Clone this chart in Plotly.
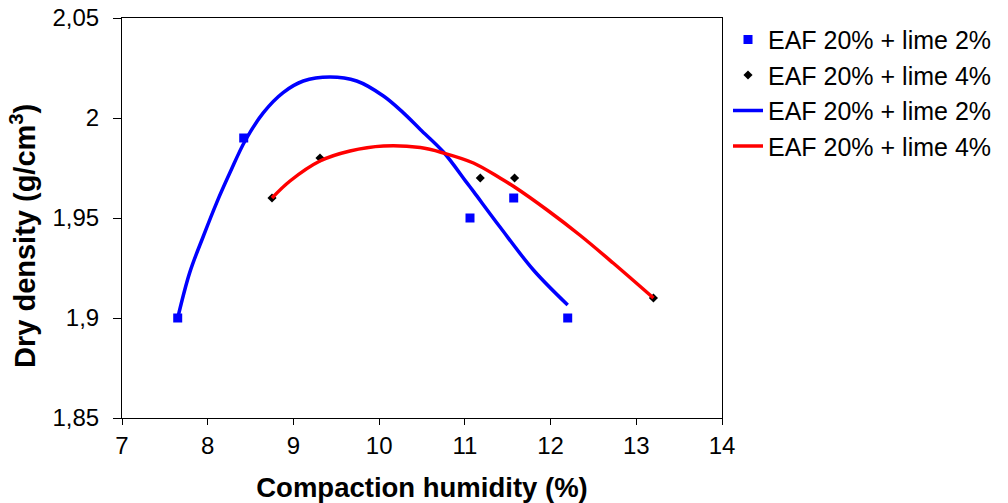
import plotly.graph_objects as go

# Measured data points
x_lime2 = [7.65, 8.42, 11.06, 11.57, 12.20]
y_lime2 = [1.90, 1.99, 1.95, 1.96, 1.90]
x_lime4 = [8.75, 9.31, 11.18, 11.58, 13.20]
y_lime4 = [1.96, 1.98, 1.97, 1.97, 1.91]

# Trend curves
x_fit2 = [7.65, 7.79, 7.95, 8.105, 8.26, 8.435, 8.65, 8.88, 9.115, 9.427, 9.738,
          10.05, 10.28, 10.48, 10.75, 11.02, 11.10, 11.41, 11.80, 12.20]
y_fit2 = [1.900, 1.9227, 1.941, 1.9577, 1.9727, 1.9885, 2.0027, 2.0127, 2.0185, 2.0205, 2.0185,
          2.011, 2.0027, 1.9943, 1.983, 1.9678, 1.9633, 1.9455, 1.924, 1.9065]
x_fit4 = [8.75, 8.96, 9.31, 9.66, 10.05, 10.48, 10.75, 11.10, 11.41, 11.58, 11.96, 12.34, 12.73, 13.20]
y_fit4 = [1.960, 1.9685, 1.9785, 1.9835, 1.986, 1.9852, 1.9825, 1.9775, 1.970, 1.9655, 1.954, 1.9415, 1.9275, 1.910]

x_ticks = [7, 8, 9, 10, 11, 12, 13, 14]
y_ticks = [1.85, 1.9, 1.95, 2.0, 2.05]
y_tick_text = ["1,85", "1,9", "1,95", "2", "2,05"]

name2 = "EAF 20% + lime 2%"
name4 = "EAF 20% + lime 4%"
x_title = "<b>Compaction humidity (%)</b>"
y_title = "<b>Dry density (g/cm<sup>3</sup>)</b>"

FONT = "Liberation Sans, Arial, sans-serif"

fig = go.Figure()
fig.add_trace(go.Scatter(x=x_lime2, y=y_lime2, mode="markers", name=name2,
                         marker=dict(symbol="square", size=9, color="#0000FF")))
fig.add_trace(go.Scatter(x=x_lime4, y=y_lime4, mode="markers", name=name4,
                         marker=dict(symbol="diamond", size=7, color="#000000")))
fig.add_trace(go.Scatter(x=x_fit2, y=y_fit2, mode="lines", name=name2,
                         line=dict(color="#0000FF", width=3.5, shape="spline", smoothing=1.0)))
fig.add_trace(go.Scatter(x=x_fit4, y=y_fit4, mode="lines", name=name4,
                         line=dict(color="#FF0000", width=3.5, shape="spline", smoothing=1.0)))

fig.add_annotation(text=y_title, xref="paper", yref="paper", x=-0.165, y=0.455,
                   textangle=-90, showarrow=False, xanchor="center", yanchor="middle",
                   font=dict(family=FONT, size=29, color="black"))

fig.update_layout(
    width=1008, height=503,
    margin=dict(l=122, r=286, t=18, b=85, autoexpand=False),
    paper_bgcolor="white", plot_bgcolor="white",
    font=dict(family=FONT, size=24, color="black"),
    showlegend=True,
    legend=dict(x=1.01, y=1.003, xanchor="left", yanchor="top",
                font=dict(family=FONT, size=25, color="black"),
                bgcolor="rgba(0,0,0,0)", tracegroupgap=0),
    xaxis=dict(range=[7, 14], tickvals=x_ticks, ticks="outside", ticklen=6,
               tickcolor="black", showline=True, linecolor="black", linewidth=1,
               mirror=True, showgrid=False, zeroline=False, automargin=False,
               tickfont=dict(family=FONT, size=24),
               title=dict(text=x_title, font=dict(family=FONT, size=27.5), standoff=19)),
    yaxis=dict(range=[1.85, 2.05], tickvals=y_ticks, ticktext=y_tick_text,
               ticks="outside", ticklen=8, tickcolor="black", showline=True,
               linecolor="black", linewidth=1, mirror=True, showgrid=False,
               zeroline=False, automargin=False, ticklabelstandoff=9,
               tickfont=dict(family=FONT, size=24)),
)

fig.write_html("out.html", config={"displayModeBar": False},
               post_script="document.body.style.margin='0';document.body.style.padding='0';"
                           "document.documentElement.style.overflow='hidden';")
